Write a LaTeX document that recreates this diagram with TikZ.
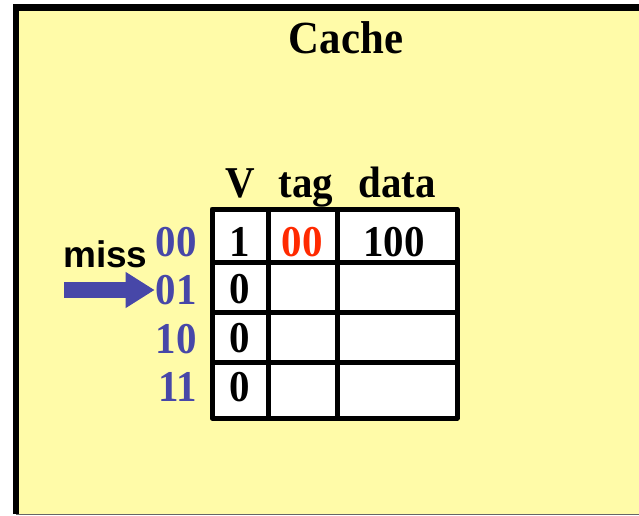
\documentclass[tikz,border=0pt]{standalone}
\usepackage{fontspec}
\usepackage{graphicx}
\setmainfont{Liberation Serif}
\newfontfamily\arialfont{Liberation Sans}
\usetikzlibrary{arrows.meta}
\definecolor{cachebg}{HTML}{FFFBA8}
\definecolor{idxblue}{HTML}{4747A8}
\definecolor{tagred}{HTML}{FF2A00}
\newcommand{\narrowtxt}[1]{\scalebox{0.93}[1]{#1}}
\tikzset{
    bigtext/.style={font=\fontsize{44}{44}\selectfont\bfseries, anchor=base, inner sep=0pt},
    headtext/.style={bigtext},
    celltext/.style={font=\fontsize{44}{44}\selectfont\bfseries, anchor=base, inner sep=0pt},
    idxtext/.style={bigtext, text=idxblue, anchor=base east},
    grid/.style={draw=black, line width=5pt, line join=round},
    missarrow/.style={draw=idxblue, line width=16pt, -{Triangle[length=29pt,width=34pt]}, shorten >=1pt},
}

\begin{document}
\begin{tikzpicture}[x=1pt,y=-1pt]
	\useasboundingbox (0,0) rectangle (639,516);
	% background box
	\fill[cachebg] (16,7) rectangle (645,514);
	\draw[black!60, line width=1pt] (16,514) -- (645,514);
	\draw[black, line width=6.5pt] (16,514) -- (16,7.5) -- (645,7.5);
	\node[bigtext, font=\fontsize{46}{46}\selectfont\bfseries] (title) at (346,54) {\narrowtxt{Cache}};
	% table
	\fill[white] (212,209) rectangle (457,418);
	\draw[grid] (212,209) rectangle (457,418);
	\draw[grid] (268,209) -- (268,418);
	\draw[grid] (337,209) -- (337,418);
	\draw[grid] (212,262) -- (457,262);
	\draw[grid] (212,312) -- (457,312);
	\draw[grid] (212,362) -- (457,362);
	% headers
	\node[headtext] (hv) at (240,197) {\narrowtxt{V}};
	\node[headtext] (htag) at (306,197) {\narrowtxt{tag}};
	\node[headtext] (hdata) at (397,197) {\narrowtxt{data}};
	% rows
	\node[celltext] (v0) at (240,256) {\narrowtxt{1}};
	\node[celltext, text=tagred] (tag0) at (302,256) {\narrowtxt{00}};
	\node[celltext] (data0) at (394,256) {\narrowtxt{100}};
	\node[celltext] (v1) at (240,303) {\narrowtxt{0}};
	\node[celltext] (v2) at (240,352) {\narrowtxt{0}};
	\node[celltext] (v3) at (240,401) {\narrowtxt{0}};
	% index labels
	\node[idxtext] (idx00) at (197,256) {\narrowtxt{00}};
	\node[idxtext] (idx01) at (197,304) {\narrowtxt{01}};
	\node[idxtext] (idx10) at (197,353) {\narrowtxt{10}};
	\node[idxtext] (idx11) at (197,401) {\narrowtxt{11}};
	% miss
	\node[font=\arialfont\fontsize{37}{37}\selectfont\bfseries, anchor=base west, inner sep=0pt] (miss) at (63,267) {miss};
	\coordinate (arrowstart) at (64,290);
	\draw[missarrow] (arrowstart) -- (arrowstart -| idx01.west);
\end{tikzpicture}
\end{document}
